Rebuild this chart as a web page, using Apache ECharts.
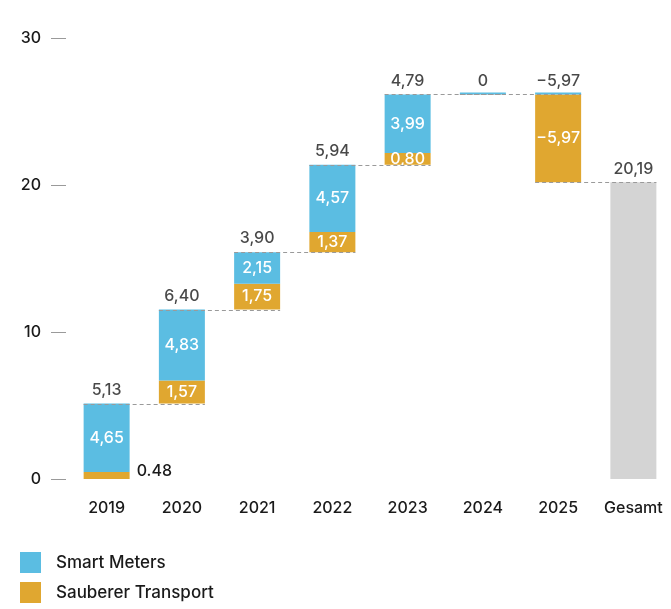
<!DOCTYPE html>
<html>
<head>
<meta charset="UTF-8">
<script src="https://cdn.jsdelivr.net/npm/echarts@6/dist/echarts.min.js"></script>
<style>
  html, body { margin: 0; padding: 0; background: #fff; }
  #chart { width: 671px; height: 609px; }
</style>
</head>
<body>
<div id="chart"></div>
<script>
// data
var categories = ['2019', '2020', '2021', '2022', '2023', '2024', '2025', 'Gesamt'];
var smartMeters = [4.65, 4.83, 2.15, 4.57, 3.99, 0, 0];
var transport = [0.48, 1.57, 1.75, 1.37, 0.80, 0, -5.97];
var gesamt = 20.19;
var yTicks = [0, 10, 20, 30];

var BLUE = '#5bbde2';
var ORANGE = '#e0a730';
var GREY = '#d4d4d4';
var TEXT = '#1a1a1a';
var FONT = 'Inter';

function fmt(v) {
  if (v === 0) return '0';
  return v.toFixed(2).replace('.', ',').replace('-', '\u2212');
}

// waterfall layout from the values
var base = [], tBars = [], sBars = [], tops = [], changes = [], links = [];
var level = 0;
for (var i = 0; i < smartMeters.length; i++) {
  var change = +(smartMeters[i] + transport[i]).toFixed(2);
  var start = level;
  level = +(level + change).toFixed(2);
  base.push(Math.min(start, level));
  tBars.push(Math.abs(transport[i]));
  sBars.push(Math.abs(smartMeters[i]));
  tops.push(Math.max(start, level));
  changes.push(change);
  links.push([i, level]);
}
base.push('-'); tBars.push('-'); sBars.push('-');
tops.push(gesamt); changes.push(gesamt);
var gesamtData = categories.map(function (c, i) { return i === categories.length - 1 ? gesamt : '-'; });

var transportData = tBars.map(function (v, i) {
  if (i === 0) {
    return {
      value: v,
      label: { show: true, position: 'right', distance: 7, color: TEXT, offset: [0, -4],
               formatter: transport[0].toFixed(2) }
    };
  }
  return v;
});

var chart = echarts.init(document.getElementById('chart'));
var option = {
  animation: false,
  textStyle: { fontFamily: FONT },
  legend: {
    orient: 'vertical',
    left: 20,
    top: 552,
    padding: 0,
    itemWidth: 21,
    itemHeight: 21,
    itemGap: 9,
    icon: 'rect',
    data: ['Smart Meters', 'Sauberer Transport'],
    textStyle: { fontSize: 17, color: TEXT, fontFamily: FONT, fontWeight: 500, padding: [6, 0, 0, 10] }
  },
  grid: { left: 69, top: 38, width: 607, height: 441 },
  xAxis: {
    type: 'category',
    data: categories,
    axisLine: { show: false },
    axisTick: { show: false },
    axisLabel: { interval: 0, fontSize: 16, color: TEXT, margin: 21, fontFamily: FONT, fontWeight: 500 }
  },
  yAxis: {
    type: 'value',
    min: yTicks[0],
    max: yTicks[yTicks.length - 1],
    interval: yTicks[1] - yTicks[0],
    offset: 3,
    axisLine: { show: false },
    axisTick: { show: true, length: 15, lineStyle: { color: '#9a9a9a' } },
    splitLine: { show: false },
    axisLabel: { fontSize: 16, color: TEXT, margin: 25, fontFamily: FONT, fontWeight: 500 }
  },
  series: [
    {
      name: 'base', type: 'bar', stack: 'w', barWidth: 46,
      itemStyle: { color: 'transparent' }, data: base, silent: true
    },
    {
      name: 'Sauberer Transport', type: 'bar', stack: 'w', barWidth: 46,
      itemStyle: { color: ORANGE },
      label: {
        show: true, position: 'inside', color: '#fff', fontSize: 16, fontWeight: 500,
        formatter: function (p) { return transport[p.dataIndex] ? fmt(transport[p.dataIndex]) : ''; }
      },
      data: transportData
    },
    {
      name: 'Smart Meters', type: 'bar', stack: 'w', barWidth: 46, barMinHeight: 2,
      itemStyle: { color: BLUE },
      label: {
        show: true, position: 'inside', color: '#fff', fontSize: 16, fontWeight: 500,
        formatter: function (p) { return smartMeters[p.dataIndex] ? fmt(smartMeters[p.dataIndex]) : ''; }
      },
      data: sBars
    },
    {
      name: 'Gesamt', type: 'bar', stack: 'w', barWidth: 46,
      itemStyle: { color: GREY }, data: gesamtData
    },
    {
      name: 'links', type: 'custom', z: 10, silent: true,
      renderItem: function (params, api) {
        var a = api.coord([api.value(0), api.value(1)]);
        var b = api.coord([api.value(0) + 1, api.value(1)]);
        var y = Math.round(a[1]) + 0.5;
        return {
          type: 'line',
          shape: { x1: a[0] - 23, y1: y, x2: b[0] + 23, y2: y },
          style: { stroke: '#9a9a9a', lineWidth: 1, lineDash: [4, 3] }
        };
      },
      data: links
    },
    {
      name: 'totals', type: 'scatter', symbolSize: 1, z: 11, silent: true,
      itemStyle: { color: 'transparent' },
      label: {
        show: true, position: 'top', distance: 5, color: TEXT, fontSize: 16, fontWeight: 500,
        formatter: function (p) { return fmt(changes[p.dataIndex]); }
      },
      data: tops.map(function (v, i) { return [i, v]; })
    }
  ]
};
chart.setOption(option);
</script>
</body>
</html>
